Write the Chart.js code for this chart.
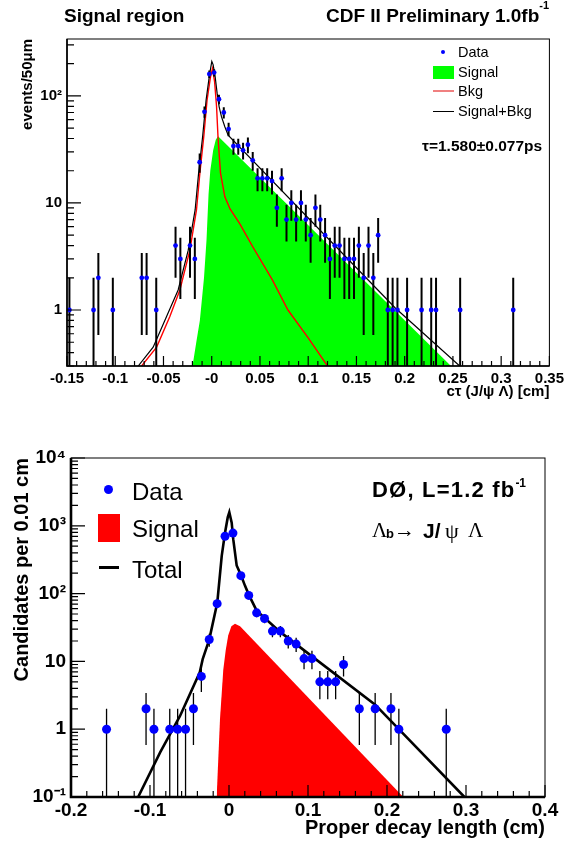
<!DOCTYPE html>
<html>
<head>
<meta charset="utf-8">
<script src="https://cdn.jsdelivr.net/npm/chart.js@4/dist/chart.umd.min.js"></script>
<style>
  body { margin:0; background:#fff; width:568px; height:844px; position:relative; overflow:hidden;
         font-family:"Liberation Sans", Arial, sans-serif; }
  canvas { position:absolute; left:0; }
  #cTop { top:0; }
  #cBot { top:420px; }
  .t { position:absolute; white-space:nowrap; line-height:1; color:#000; }
  .b { font-weight:bold; }
  .sym { position:absolute; }
  .serif { font-family:"Liberation Serif", "DejaVu Serif", serif; font-weight:normal; }
</style>
</head>
<body>
<canvas id="cTop" width="568" height="420"></canvas>
<canvas id="cBot" width="568" height="424"></canvas>

<!-- top panel texts -->
<div class="t b" style="left:64px;top:5.7px;font-size:19px">Signal region</div>
<div class="t b" style="left:326px;top:5.7px;font-size:19px">CDF II Preliminary 1.0fb<span style="font-size:11px;position:relative;top:-13px">-1</span></div>
<div class="sym" style="left:441px;top:50px;width:4px;height:4px;border-radius:50%;background:#00f"></div>
<div class="sym" style="left:433px;top:66px;width:21px;height:13px;background:#0f0"></div>
<div class="sym" style="left:433px;top:90px;width:21px;height:2px;background:#f08080"></div>
<div class="sym" style="left:433px;top:111px;width:21px;height:1px;background:#000"></div>
<div class="t" style="left:458px;top:45.4px;font-size:14.5px">Data</div>
<div class="t" style="left:458px;top:64.9px;font-size:14.5px">Signal</div>
<div class="t" style="left:458px;top:83.9px;font-size:14.5px">Bkg</div>
<div class="t" style="left:458px;top:103.9px;font-size:14.5px">Signal+Bkg</div>
<div class="t b" style="left:422px;top:138.4px;font-size:15.5px">τ=1.580±0.077ps</div>

<!-- bottom panel texts -->
<div class="sym" style="left:103.5px;top:484.5px;width:9px;height:9px;border-radius:50%;background:#00f"></div>
<div class="sym" style="left:98px;top:514px;width:22px;height:28px;background:#f00"></div>
<div class="sym" style="left:99px;top:565.5px;width:20px;height:3px;background:#000"></div>
<div class="t" style="left:132px;top:479.5px;font-size:24px">Data</div>
<div class="t" style="left:132px;top:517.2px;font-size:24px">Signal</div>
<div class="t" style="left:132px;top:557.9px;font-size:24px">Total</div>
<div class="t b" style="left:372px;top:479.2px;font-size:22px;letter-spacing:1.2px">DØ, L=1.2 fb<span style="font-size:12px;position:relative;top:-10px;letter-spacing:0">-1</span></div>
<div class="t serif" style="left:372px;top:520px;font-size:21px">Λ</div>
<div class="t b" style="left:386px;top:527px;font-size:13px">b</div>
<div class="t serif" style="left:394px;top:520px;font-size:21px">→</div>
<div class="t b" style="left:423px;top:519.7px;font-size:21px">J/</div>
<div class="t serif" style="left:445px;top:520px;font-size:22px">ψ</div>
<div class="t serif" style="left:468px;top:520px;font-size:21px">Λ</div>

<script>
// ---- top panel (CDF) data ----
var topX = [-0.1475,-0.1225,-0.1175,-0.1025,-0.0725,-0.0675,-0.0575,-0.0375,-0.0325,-0.0225,-0.0175,
  -0.0125,-0.0075,-0.0025,0.0025,0.0075,0.0125,0.0175,0.0225,0.0275,0.0325,0.0375,0.0425,
  0.0475,0.0525,0.0575,0.0625,0.0675,0.0725,0.0775,0.0825,0.0875,0.0925,0.0975,
  0.1025,0.1075,0.1125,0.1175,0.1225,0.1275,0.1325,0.1375,0.1425,0.1475,0.1525,0.1575,0.1625,0.1675,0.1725,
  0.1825,0.1875,0.1925,0.2025,0.2175,0.2275,0.2325,0.2575,0.3125];
var topN = [1,1,2,1,2,2,1,4,3,4,3,
  24,71,160,165,93,70,49,34,34,31,35,25,
  17,17,17,16,9,17,7,10,7,10,7,
  5,9,7,5,3,4,4,3,3,3,4,2,4,2,5,
  1,1,1,1,1,1,1,1,1];

var topBkgX = [-0.0727,-0.0571,-0.0434,-0.033,-0.0227,-0.0158,-0.0123,-0.0082,-0.0048,-0.0013,0.0008,0.003,0.005,0.0066,0.0091,0.0136,0.019,0.029,0.0425,0.063,0.079,0.1,0.12];
var topBkgY = [0.3,0.45,0.87,1.54,3.6,8.6,19,42,92,150,180,135,80,40,19,11.4,8.8,6.4,3.9,1.9,1.0,0.55,0.3];

var topTotX = [-0.0762,-0.0607,-0.0468,-0.0348,-0.0244,-0.0172,-0.0136,-0.0094,-0.0058,-0.0022,0.0001,0.0015,0.0036,0.0056,0.0077,0.0101,0.0136,0.017,0.19,0.257];
var topTotY = [0.3,0.45,0.87,1.54,3.6,8.6,19,42,92,160,210,195,150,106,79,64,51.5,43,1.05,0.3];

var topSigX = [-0.0199,-0.016,-0.0123,-0.008,-0.0054,-0.0033,-0.0015,0.0015,0.0042,0.0066,0.248];
var topSigY = [0.3,0.5,0.8,2.0,4.5,12,20,31,39,42,0.3];

var topXTicks = [-0.15,-0.1,-0.05,0,0.05,0.1,0.15,0.2,0.25,0.3,0.35];
var topXLabels = ['-0.15','-0.1','-0.05','-0','0.05','0.1','0.15','0.2','0.25','0.3','0.35'];
var topYTicks = [1,10,100];
var topYLabels = ['1','10','10²'];

// ---- bottom panel (D0) data ----
var botX = [-0.155,-0.105,-0.095,-0.075,-0.065,-0.055,-0.045,-0.035,-0.025,-0.015,
  -0.005,0.005,0.015,0.025,0.035,0.045,0.055,0.065,0.075,0.085,
  0.095,0.105,0.115,0.125,0.135,0.145,0.165,0.185,0.205,0.215,0.275];
var botN = [1,2,1,1,1,1,2,6,21,71,
  700,780,184,94,52,43,28,28,20,18,
  11,11,5,5,5,9,2,2,2,1,1];

var botTotX = [-0.115,-0.087,-0.062,-0.037,-0.0333,-0.025,-0.0148,-0.0092,-0.005,-0.0016,0.0004,0.0034,0.0054,0.0097,0.0152,0.0203,0.0253,0.035,0.065,0.185,0.298];
var botTotY = [0.1,0.46,1.57,6.9,10.8,21,74,360,795,1330,1580,1110,630,260,186,130,95,56,27,2.3,0.1];

var botSigX = [-0.0156,-0.0114,-0.0072,-0.004,-0.001,0.003,0.0076,0.014,0.2206];
var botSigY = [0.1,1.4,7.6,15,24,33,36,33,0.1];

var botXTicks = [-0.2,-0.1,0,0.1,0.2,0.3,0.4];
var botXLabels = ['-0.2','-0.1','0','0.1','0.2','0.3','0.4'];
var botYTicks = [0.1,1,10,100,1000,10000];
var botYLabels = ['10⁻¹','1','10','10²','10³','10⁴'];

Chart.defaults.font.family = '"Liberation Sans", Arial, sans-serif';
Chart.defaults.color = '#000';

function pts(xs, ys){ return xs.map(function(x, i){ return { x: x, y: ys[i] }; }); }

// ROOT-like frame, inner ticks and error bars
var rootFrame = {
  id: 'rootFrame',
  beforeDatasetDraw: function(chart, args, o){
    var ds = chart.data.datasets[args.index];
    if (!ds.errors) return;
    var ctx = chart.ctx, a = chart.chartArea, xs = chart.scales.x, ys = chart.scales.y;
    ctx.save();
    ctx.beginPath(); ctx.rect(a.left, a.top, a.width, a.height); ctx.clip();
    ctx.strokeStyle = '#000'; ctx.lineWidth = o.errWidth;
    ctx.beginPath();
    ds.data.forEach(function(p, i){
      var e = ds.errors[i];
      var px = xs.getPixelForValue(p.x);
      var top = ys.getPixelForValue(p.y + e);
      var bot = (p.y - e) > 0 ? ys.getPixelForValue(p.y - e) : a.bottom;
      ctx.moveTo(px, top); ctx.lineTo(px, Math.min(bot, a.bottom));
    });
    ctx.stroke();
    ctx.restore();
  },
  afterDraw: function(chart, args, o){
    var ctx = chart.ctx, a = chart.chartArea, xs = chart.scales.x, ys = chart.scales.y;
    ctx.save();
    ctx.strokeStyle = '#000';
    ctx.lineWidth = o.tickWidth;
    ctx.beginPath();
    var n = Math.round((xs.max - xs.min) / o.xMinor);
    var every = Math.round(o.xMajor / o.xMinor);
    for (var i = 0; i <= n; i++) {
      var px = xs.getPixelForValue(xs.min + i * o.xMinor);
      var len = (i % every === 0) ? o.xMajorLen : o.xMinorLen;
      ctx.moveTo(px, a.bottom); ctx.lineTo(px, a.bottom - len);
    }
    var d0 = Math.floor(Math.log10(ys.min)), d1 = Math.ceil(Math.log10(ys.max));
    for (var d = d0; d <= d1; d++) {
      for (var m = 1; m <= 9; m++) {
        var v = m * Math.pow(10, d);
        if (v < ys.min * 0.999 || v > ys.max * 1.001) continue;
        var py = ys.getPixelForValue(v);
        ctx.moveTo(a.left, py); ctx.lineTo(a.left + (m === 1 ? o.yMajorLen : o.yMinorLen), py);
      }
    }
    ctx.stroke();
    ctx.lineWidth = o.frameWidth;
    ctx.strokeRect(a.left, a.top, a.width, a.height);
    ctx.lineWidth = o.axisWidth;
    ctx.beginPath();
    ctx.moveTo(a.left, a.top); ctx.lineTo(a.left, a.bottom); ctx.lineTo(a.right, a.bottom);
    ctx.stroke();
    ctx.restore();
  }
};

function axisX(cfg){
  return {
    type: 'linear', min: cfg.min, max: cfg.max,
    grid: { display: false, drawTicks: false }, border: { display: false },
    afterBuildTicks: function(s){ s.ticks = cfg.ticks.map(function(v){ return { value: v }; }); },
    afterFit: function(s){ s.height = cfg.height; },
    ticks: { autoSkip: false, maxRotation: 0, padding: cfg.pad, font: { size: cfg.size, weight: 'bold' },
             callback: function(v, i){ return cfg.labels[i]; } },
    title: { display: true, text: cfg.title, align: 'end', font: { size: cfg.tsize, weight: 'bold' },
             padding: { top: 0, bottom: cfg.tpad } }
  };
}
function axisY(cfg){
  return {
    type: 'logarithmic', min: cfg.min, max: cfg.max,
    grid: { display: false, drawTicks: false }, border: { display: false },
    afterBuildTicks: function(s){ s.ticks = cfg.ticks.map(function(v){ return { value: v }; }); },
    afterFit: function(s){ s.width = cfg.width; },
    ticks: { autoSkip: false, padding: cfg.pad, font: { size: cfg.size, weight: 'bold' },
             callback: function(v, i){ return cfg.labels[i]; } },
    title: { display: true, text: cfg.title, align: 'end', font: { size: cfg.tsize, weight: 'bold' },
             padding: { top: cfg.tpad, bottom: 0 } }
  };
}

function line(label, xs, ys, color, width, order, fill){
  return { type: 'scatter', label: label, data: pts(xs, ys), showLine: true, pointRadius: 0,
           borderColor: color, borderWidth: width, backgroundColor: color, fill: fill || false, order: order };
}

new Chart(document.getElementById('cTop'), {
  type: 'scatter',
  data: { datasets: [
    { label: 'Data', data: pts(topX, topN), errors: topN.map(Math.sqrt), pointRadius: 2.4,
      backgroundColor: '#0000ff', borderWidth: 0, order: 0 },
    line('Signal+Bkg', topTotX, topTotY, '#000000', 1.2, 1),
    line('Bkg', topBkgX, topBkgY, '#ff0000', 1.4, 2),
    line('Signal', topSigX, topSigY, '#00ff00', 0, 3, 'start')
  ]},
  options: {
    responsive: false, animation: false, devicePixelRatio: 1,
    layout: { padding: { left: 0, right: 18, top: 39, bottom: 0 } },
    plugins: { legend: { display: false }, tooltip: { enabled: false },
      rootFrame: { errWidth: 2, tickWidth: 1.2, xMinor: 0.01, xMajor: 0.05, xMajorLen: 10, xMinorLen: 5,
                   yMajorLen: 14, yMinorLen: 7, frameWidth: 1, axisWidth: 1.6 } },
    scales: {
      x: axisX({ min: -0.15, max: 0.35, ticks: topXTicks, labels: topXLabels, height: 54, pad: 4, size: 15,
                 title: 'cτ (J/ψ Λ) [cm]', tsize: 15, tpad: 19 }),
      y: axisY({ min: 0.3, max: 340, ticks: topYTicks, labels: topYLabels, width: 67, pad: 5, size: 15,
                 title: 'events/50μm', tsize: 15, tpad: 19 })
    }
  },
  plugins: [rootFrame]
});

new Chart(document.getElementById('cBot'), {
  type: 'scatter',
  data: { datasets: [
    { label: 'Data', data: pts(botX, botN), errors: botN.map(Math.sqrt), pointRadius: 4.5,
      backgroundColor: '#0000ff', borderWidth: 0, order: 0 },
    line('Total', botTotX, botTotY, '#000000', 2.6, 1),
    line('Signal', botSigX, botSigY, '#ff0000', 0, 2, 'start')
  ]},
  options: {
    responsive: false, animation: false, devicePixelRatio: 1,
    layout: { padding: { left: 0, right: 23, top: 38, bottom: 0 } },
    plugins: { legend: { display: false }, tooltip: { enabled: false },
      rootFrame: { errWidth: 1.3, tickWidth: 1.2, xMinor: 0.02, xMajor: 0.1, xMajorLen: 12, xMinorLen: 6,
                   yMajorLen: 14, yMinorLen: 7, frameWidth: 1, axisWidth: 2.6 } },
    scales: {
      x: axisX({ min: -0.2, max: 0.4, ticks: botXTicks, labels: botXLabels, height: 47, pad: 2, size: 19,
                 title: 'Proper decay length (cm)', tsize: 20, tpad: 4 }),
      y: axisY({ min: 0.1, max: 10000, ticks: botYTicks, labels: botYLabels, width: 71, pad: 5, size: 19,
                 title: 'Candidates per 0.01 cm', tsize: 20, tpad: 10 })
    }
  },
  plugins: [rootFrame]
});
</script>
</body>
</html>
